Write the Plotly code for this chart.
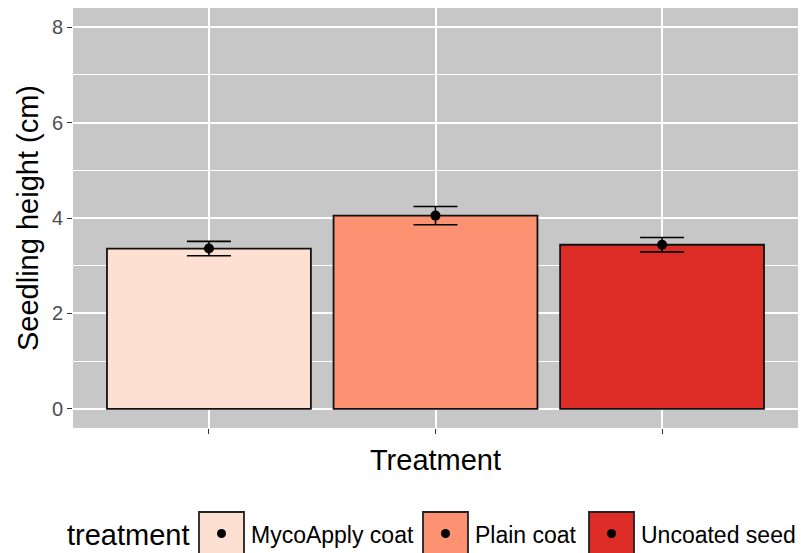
import plotly.graph_objects as go

# ---- data ----
treatments = ["MycoApply coat", "Plain coat", "Uncoated seed"]
mean_height = [3.36, 4.05, 3.44]
se_height = [0.15, 0.19, 0.15]
fill_colors = ["#FEE0D2", "#FC9272", "#DE2D26"]
y_ticks = [0, 2, 4, 6, 8]

W, H = 810, 553
ML, MR, MT, MB = 73, 12, 8, 125
PW, PH = W - ML - MR, H - MT - MB

def px_x(x):
    return (x - ML) / PW

def px_y(y):
    return (H - MB - y) / PH

FONT = "Liberation Sans, Arial, sans-serif"

fig = go.Figure()
fig.add_trace(go.Bar(
    x=treatments, y=mean_height, width=0.9,
    marker=dict(color=fill_colors, line=dict(color="#111111", width=1.8)),
    showlegend=False, hoverinfo="skip",
))
fig.add_trace(go.Scatter(
    x=treatments, y=mean_height, mode="markers",
    marker=dict(color="black", size=10),
    error_y=dict(type="data", array=se_height, color="black", thickness=1.6, width=22),
    showlegend=False,
))

# ---- ggplot-like legend (bottom) ----
shapes = []
annotations = []
annotations.append(dict(text="treatment", x=px_x(65), y=px_y(535), xref="paper", yref="paper",
                        xanchor="left", yanchor="middle", showarrow=False,
                        font=dict(family=FONT, size=29, color="black")))
box_left = [199, 423, 589]
box_w = 45
for name, col, bl in zip(treatments, fill_colors, box_left):
    shapes.append(dict(type="rect", xref="paper", yref="paper",
                       x0=px_x(bl), x1=px_x(bl + box_w), y0=px_y(512), y1=px_y(558),
                       fillcolor=col, line=dict(color="#222222", width=1.8)))
    cx = bl + box_w / 2
    shapes.append(dict(type="circle", xref="paper", yref="paper",
                       x0=px_x(cx - 4.5), x1=px_x(cx + 4.5), y0=px_y(529), y1=px_y(538),
                       fillcolor="black", line=dict(color="black", width=0)))
    annotations.append(dict(text=name, x=px_x(bl + box_w + 5), y=px_y(535), xref="paper", yref="paper",
                            xanchor="left", yanchor="middle", showarrow=False,
                            font=dict(family=FONT, size=23, color="black")))

fig.update_layout(
    width=W, height=H,
    margin=dict(l=ML, r=MR, t=MT, b=MB, pad=0),
    paper_bgcolor="white", plot_bgcolor="#C7C7C7",
    font=dict(family=FONT, color="black"),
    bargap=0.1,
    showlegend=False,
    shapes=shapes, annotations=annotations,
    xaxis=dict(
        type="category", range=[-0.6, 2.6],
        showticklabels=False, ticks="outside", ticklen=5, tickwidth=1.2, tickcolor="#333333",
        showgrid=True, gridcolor="white", gridwidth=1.5, zeroline=False, showline=False,
        title=dict(text="Treatment", font=dict(size=29, color="black"), standoff=16),
    ),
    yaxis=dict(
        range=[-0.4, 8.4], tickvals=y_ticks, ticktext=[str(v) for v in y_ticks],
        ticks="outside", ticklen=5, tickwidth=1.2, tickcolor="#333333",
        tickfont=dict(size=20, color="#4D4D4D"),
        showgrid=True, gridcolor="white", gridwidth=1.5, zeroline=False, showline=False,
        minor=dict(dtick=1, tick0=0, showgrid=True, gridcolor="white", gridwidth=0.8, ticks=""),
        title=dict(text="Seedling height (cm)", font=dict(size=29, color="black"), standoff=4),
    ),
)

fig.write_html(
    "out.html",
    config={"displayModeBar": False},
    post_script="document.body.style.margin='0';document.body.style.overflow='hidden';",
)
